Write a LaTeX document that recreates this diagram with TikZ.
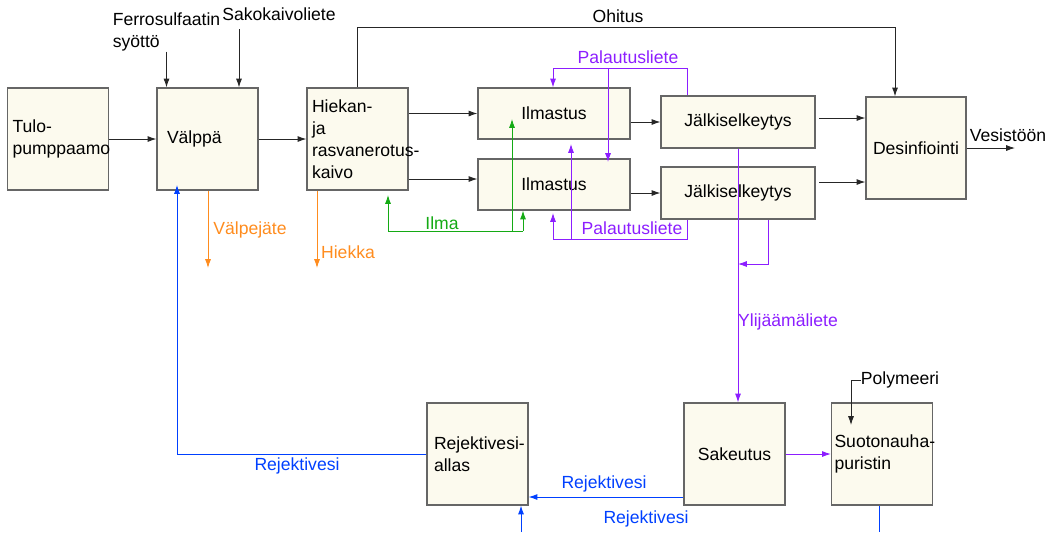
\documentclass[tikz,border=0pt]{standalone}
\usepackage{fontspec}
\setmainfont{Liberation Sans}
\usetikzlibrary{arrows.meta}
\definecolor{boxfill}{RGB}{252,250,238}
\definecolor{myorange}{RGB}{255,140,30}
\definecolor{mypurple}{RGB}{140,30,255}
\definecolor{mygreen}{RGB}{20,170,20}
\definecolor{myblue}{RGB}{0,64,255}

\tikzset{
  txt/.style={font=\fontsize{10}{12.5}\selectfont, inner sep=0pt},
  box/.style={txt, draw=black!60, line width=0.7pt, fill=boxfill,
    minimum width=2.02cm, minimum height=2.04cm},
  boxl/.style={box, text width=1.82cm, inner xsep=0.1cm, align=left},
  wide/.style={box, minimum width=3.04cm, minimum height=1.02cm},
  flow/.style={line width=0.5pt, black!85, -{Latex[length=5pt,width=3.4pt]}},
  waste/.style={flow, myorange},
  air/.style={flow, mygreen},
  sludge/.style={flow, mypurple},
  reject/.style={flow, myblue}
}

\begin{document}
\begin{tikzpicture}[x=0.02cm,y=-0.02cm]
\useasboundingbox (0,0) rectangle (1051,532);

%process boxes
\node[boxl] (tulo) at (58,139) {Tulo-\\pumppaamo};
\node[boxl, text width=1.62cm, inner xsep=0.2cm] (valppa) at (207.5,139) {Välppä};
\node[boxl] (hiekka) at (357.5,139) {\mbox{Hiekan-}\\ja\\\mbox{rasvanerotus-}\\kaivo};
\node[wide, align=center] (ilmA) at (554,113.5) {Ilmastus};
\node[wide, align=center] (ilmB) at (554,184.5) {Ilmastus};
\node[wide, minimum width=3.08cm, minimum height=1.04cm] (jalkA) at (738,122) {Jälkiselkeytys};
\node[wide, minimum width=3.08cm, minimum height=1.04cm] (jalkB) at (738,193) {Jälkiselkeytys};
\node[box, minimum width=2cm] (desinf) at (916,148) {Desinfiointi};
\node[boxl, inner xsep=0.14cm, text width=1.74cm] (allas) at (477.5,454) {\mbox{Rejektivesi-}\\allas};
\node[box] (sakeutus) at (734.5,454) {Sakeutus};
\node[boxl, inner xsep=0.06cm, text width=1.9cm] (suoto) at (882,454) {\mbox{Suotonauha-}\\puristin};

%labels
\node[txt, align=left] (ferro) at (166.5,32) {Ferrosulfaatin\\syöttö};
\node[txt] (sako) at (279,14) {Sakokaivoliete};
\node[txt] (ohitus) at (618,16) {Ohitus};
\node[txt] (vesi) at (1008,135) {Vesistöön};
\node[txt] (poly) at (900,380) {Polymeeri};
\node[txt, text=myorange] (valpejate) at (250,230) {Välpejäte};
\node[txt, text=myorange] (hiekkalbl) at (348,252) {Hiekka};
\node[txt, text=mygreen] (ilma) at (442,223) {Ilma};
\node[txt, text=mypurple] (palA) at (628,57) {Palautusliete};
\node[txt, text=mypurple] (palB) at (632,228) {Palautusliete};
\node[txt, text=mypurple] (ylij) at (788,322) {Ylijäämäliete};
\node[txt, text=myblue] (rejA) at (297,466) {Rejektivesi};
\node[txt, text=myblue] (rejB) at (604,484) {Rejektivesi};
\node[txt, text=myblue] (rejC) at (646,519) {Rejektivesi};

%free ends and corners
\coordinate (sako-in) at (239,29);
\coordinate (ohit) at (895,27);
\coordinate (out) at (1015,148);
\coordinate (valp-out) at (208,268);
\coordinate (hiek-out) at (317,268);
\coordinate (ilmaL) at (388,231);
\coordinate (ilmaM) at (512,231);
\coordinate (ilmaR) at (523,231);
\coordinate (palA-l) at (553,68);
\coordinate (palA-m) at (608,68);
\coordinate (palA-r) at (687,68);
\coordinate (palB-l) at (553,239);
\coordinate (palB-m) at (571,239);
\coordinate (palB-r) at (687,239);
\coordinate (ylij-r) at (768,264);
\coordinate (rej-l) at (177,185);
\coordinate (rej-bot) at (521,532);
\coordinate (suoto-bot) at (879,532);

%main line
\draw[flow] (tulo) -- (valppa);
\draw[flow] (valppa) -- (hiekka);
\draw[flow] (ferro.south) -- (ferro.south |- valppa.north);
\draw[flow] (sako-in) -- (sako-in |- valppa.north);
\draw[flow] (hiekka.north) |- (ohit) -- (ohit |- desinf.north);
\draw[flow] (hiekka.east |- ilmA.west) -- (ilmA.west);
\draw[flow] (hiekka.east |- 0,179) -- (ilmB.west |- 0,179);
\draw[flow] (ilmA.east |- jalkA.west) -- (jalkA.west);
\draw[flow] (ilmB.east |- jalkB.west) -- (jalkB.west);
\draw[flow] ([xshift=2]jalkA.east |- 0,118) -- (desinf.west |- 0,118);
\draw[flow] ([xshift=2]jalkB.east |- 0,182) -- (desinf.west |- 0,182);
\draw[flow] (desinf.east) -- (out);

%screenings and sand
\draw[waste] (valppa.south -| valp-out) -- (valp-out);
\draw[waste] (hiekka.south -| hiek-out) -- (hiek-out);

%air
\draw[air, -] (ilmaL) -- (ilmaR);
\draw[air] (ilmaL) -- ++(0,-36);
\draw[air] (ilmaM) -- (ilmaM |- 0,119);
\draw[air] (ilmaR) -- (ilmaR |- ilmB.south);

%return sludge
\draw[sludge, -] (palA-r |- jalkA.north) -- (palA-r) -- (palA-l);
\draw[sludge] (palA-l) -- (palA-l |- ilmA.north);
\draw[sludge] (palA-m) -- (palA-m |- 0,162);
\draw[sludge, -] (palB-r |- jalkB.south) -- (palB-r) -- (palB-l);
\draw[sludge] (palB-l) -- (palB-l |- 0,213);
\draw[sludge] (palB-m) -- (palB-m |- 0,144);

%excess sludge
\draw[sludge] (jalkA.south) -- (jalkA.south |- sakeutus.north);
\draw[sludge] (ylij-r |- jalkB.south) -- (ylij-r) -- (jalkA.south |- ylij-r);
\draw[sludge] (sakeutus) -- (suoto);
\draw[flow] (poly.west) -| (851,425);

%reject water
\draw[reject] (allas.west) -| (rej-l);
\draw[reject] (sakeutus.west |- 0,497) -- (allas.east |- 0,497);
\draw[reject] (rej-bot) -- (rej-bot |- allas.south);
\draw[reject, -] (suoto.south -| suoto-bot) -- (suoto-bot);

\end{tikzpicture}
\end{document}
